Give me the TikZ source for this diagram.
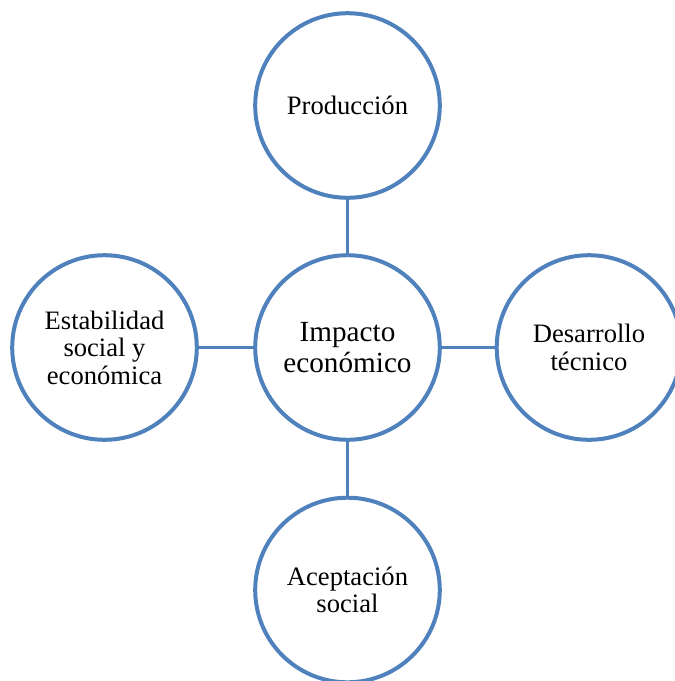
\documentclass[tikz,border=0pt]{standalone}
\usepackage{fontspec}
\setmainfont{Liberation Serif}
\usepackage{tikz}
\definecolor{ringblue}{RGB}{79,129,189}

\begin{document}
\begin{tikzpicture}[y=1pt, x=1pt, yscale=-1, inner sep=0pt, outer sep=0pt,
  ring/.style={circle, draw=ringblue, line width=4pt, fill=white,
    minimum size=184.6pt, align=center,
    font=\fontsize{26.6}{27.5}\selectfont},
  hub/.style={ring, font=\fontsize{29.2}{30.5}\selectfont},
  link/.style={draw=ringblue, line width=2.7pt}]
  \useasboundingbox (0,0) rectangle (675,681);
  \clip (0,0) rectangle (675,681);

  \node[hub] (impacto) at (347.5,347.5) {Impacto\\econ\'omico};
  \node[ring] (produccion) at (347.5,105.5) {Producci\'on};
  \node[ring] (estabilidad) at (104.5,347.5) {Estabilidad\\social y\\econ\'omica};
  \node[ring] (desarrollo) at (589,347.5) {Desarrollo\\t\'ecnico};
  \node[ring] (aceptacion) at (347.5,590) {Aceptaci\'on\\social};

  \path[link] (produccion) -- (impacto);
  \path[link] (estabilidad) -- (impacto);
  \path[link] (impacto) -- (desarrollo);
  \path[link] (impacto) -- (aceptacion);

\end{tikzpicture}
\end{document}
